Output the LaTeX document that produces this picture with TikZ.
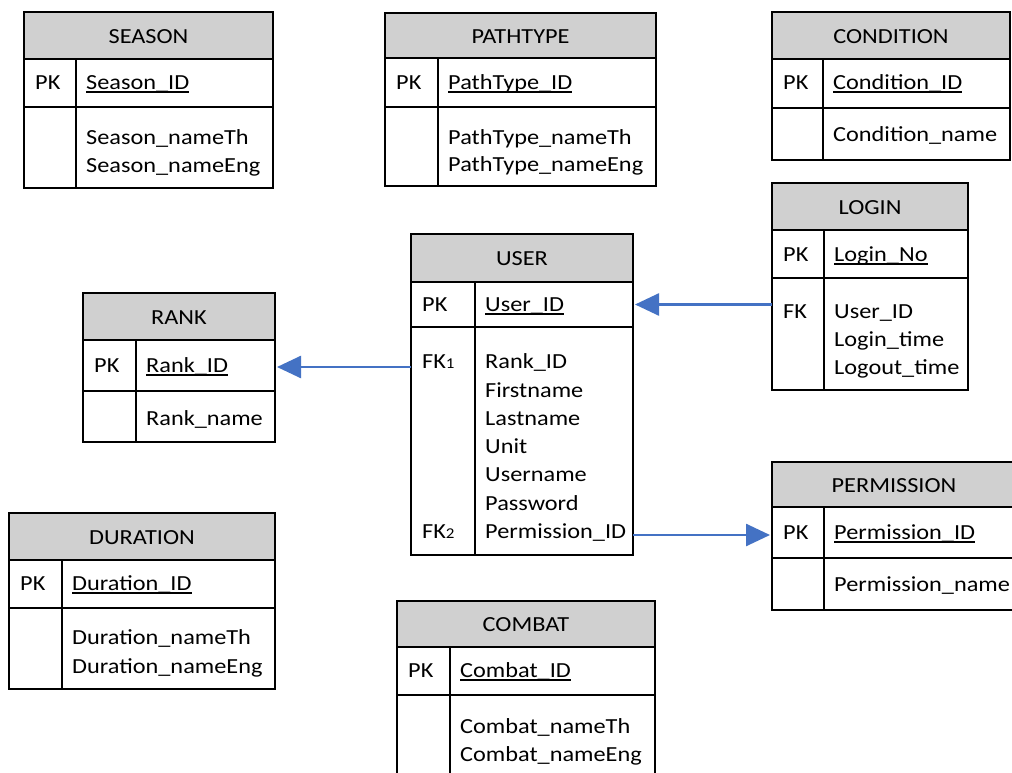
\documentclass[tikz,border=0pt]{standalone}
\usepackage{fontspec}
\setmainfont{Carlito}[FakeStretch=1.13]
\usetikzlibrary{arrows.meta}
\definecolor{hdrgray}{RGB}{208,208,208}
\definecolor{linkblue}{RGB}{68,114,196}
% underlined primary-key attribute
\newcommand\keyfield[1]{\setbox0\hbox{#1}\rlap{\vrule height -1.6pt depth 3.2pt width \wd0}\box0}
% entity box: name, x-left, x-divider, x-right, y-top, y-header, y-key, y-bottom, title
\newcommand\enttable[9]{%
  \node[hdrrow, minimum width={(#4-#2)*1pt}, minimum height={(#6-#5)*1pt}] (#1-h) at (#2,#5) {};
  \node[rowbox, minimum width={(#4-#2)*1pt}, minimum height={(#7-#6)*1pt}] (#1-k) at (#2,#6) {};
  \node[rowbox, minimum width={(#4-#2)*1pt}, minimum height={(#8-#7)*1pt}] (#1-b) at (#2,#7) {};
  \draw[divline] (#3,#6) -- (#3,#8);
  \node[ttl] (#1-t) at ([yshift=-1pt]#1-h.center) {#9};
}
\newcommand\fksub[1]{FK{\fontsize{15}{15}\selectfont #1}}
\begin{document}
\begin{tikzpicture}[
  x=1pt, y=-1pt,
  rowbox/.style={draw, line width=1.6pt, anchor=north west, inner sep=0pt, outer sep=0pt},
  hdrrow/.style={rowbox, fill=hdrgray},
  txt/.style={inner sep=0pt, text height=13.5pt, text depth=0pt, font=\fontsize{21.5}{28}\selectfont},
  ttl/.style={txt, anchor=center},
  lbl/.style={txt, anchor=west},
  divline/.style={line width=1.6pt},
  link/.style={draw=linkblue, line width=2.6pt, -{Triangle[length=24pt,width=22pt]}, shorten >=2pt},
]
\clip (0,0) rectangle (1012,773);
\fill[white] (0,0) rectangle (1012,773);

% SEASON
\enttable{season}{24}{76}{273}{12}{59}{107}{188}{SEASON}
\node[lbl] (season-pk) at (35,83) {PK};
\node[lbl] (season-id) at (86,83) {\keyfield{Season\_ID}};
\node[lbl] (season-f1) at (86,138) {Season\_nameTh};
\node[lbl] (season-f2) at (86,166) {Season\_nameEng};

% PATHTYPE
\enttable{path}{385}{438}{656}{13}{58}{107}{186}{PATHTYPE}
\node[lbl] (path-pk) at (396,83) {PK};
\node[lbl] (path-id) at (448,83) {\keyfield{PathType\_ID}};
\node[lbl] (path-f1) at (448,138) {PathType\_nameTh};
\node[lbl] (path-f2) at (448,165) {PathType\_nameEng};

% CONDITION
\enttable{cond}{772}{823}{1010}{12}{59}{108}{160}{CONDITION}
\node[lbl] (cond-pk) at (783,83) {PK};
\node[lbl] (cond-id) at (833,83) {\keyfield{Condition\_ID}};
\node[lbl] (cond-f1) at (833,135) {Condition\_name};

% LOGIN
\enttable{login}{772}{824}{968}{183}{230}{278}{390}{LOGIN}
\node[lbl] (login-pk) at (783,255) {PK};
\node[lbl] (login-id) at (834,255) {\keyfield{Login\_No}};
\node[lbl] (login-fk) at (783,312) {FK};
\node[lbl] (login-f1) at (834,312) {User\_ID};
\node[lbl] (login-f2) at (834,340) {Login\_time};
\node[lbl] (login-f3) at (834,368) {Logout\_time};

% USER
\enttable{user}{411}{475}{633}{234}{282}{327}{555}{USER}
\node[lbl] (user-pk) at (422,305) {PK};
\node[lbl] (user-id) at (485,305) {\keyfield{User\_ID}};
\node[lbl] (user-fk1) at (422,362) {\fksub{1}};
\node[lbl] (user-fk2) at (422,532) {\fksub{2}};
\foreach [count=\i] \t in {Rank\_ID, Firstname, Lastname, Unit, Username, Password, Permission\_ID}
  \node[lbl] (user-f\i) at (485,{362+28.3*(\i-1)}) {\t};

% RANK
\enttable{rank}{83}{136}{275}{293}{340}{391}{442}{RANK}
\node[lbl] (rank-pk) at (94,366) {PK};
\node[lbl] (rank-id) at (146,366) {\keyfield{Rank\_ID}};
\node[lbl] (rank-f1) at (146,419) {Rank\_name};

% DURATION
\enttable{dur}{9}{62}{275}{513}{560}{608}{689}{DURATION}
\node[lbl] (dur-pk) at (20,584) {PK};
\node[lbl] (dur-id) at (72,584) {\keyfield{Duration\_ID}};
\node[lbl] (dur-f1) at (72,638) {Duration\_nameTh};
\node[lbl] (dur-f2) at (72,667) {Duration\_nameEng};

% PERMISSION
\enttable{perm}{772}{824}{1016}{462}{507}{558}{610}{PERMISSION}
\node[lbl] (perm-pk) at (783,533) {PK};
\node[lbl] (perm-id) at (834,533) {\keyfield{Permission\_ID}};
\node[lbl] (perm-f1) at (834,585) {Permission\_name};

% COMBAT
\enttable{combat}{397}{450}{655}{601}{647}{695}{800}{COMBAT}
\node[lbl] (combat-pk) at (408,671) {PK};
\node[lbl] (combat-id) at (460,671) {\keyfield{Combat\_ID}};
\node[lbl] (combat-f1) at (460,727) {Combat\_nameTh};
\node[lbl] (combat-f2) at (460,755) {Combat\_nameEng};

% relationships
\coordinate (rank-in) at ([yshift=-1.5pt]rank-k.east);
\coordinate (perm-in) at ([yshift=-2.5pt]perm-k.west);
\draw[link] (login-b.west |- user-k.east) -- (user-k.east);
\draw[link] (user-b.west |- rank-in) -- (rank-in);
\draw[link] (user-b.east |- perm-in) -- (perm-in);
\end{tikzpicture}
\end{document}
